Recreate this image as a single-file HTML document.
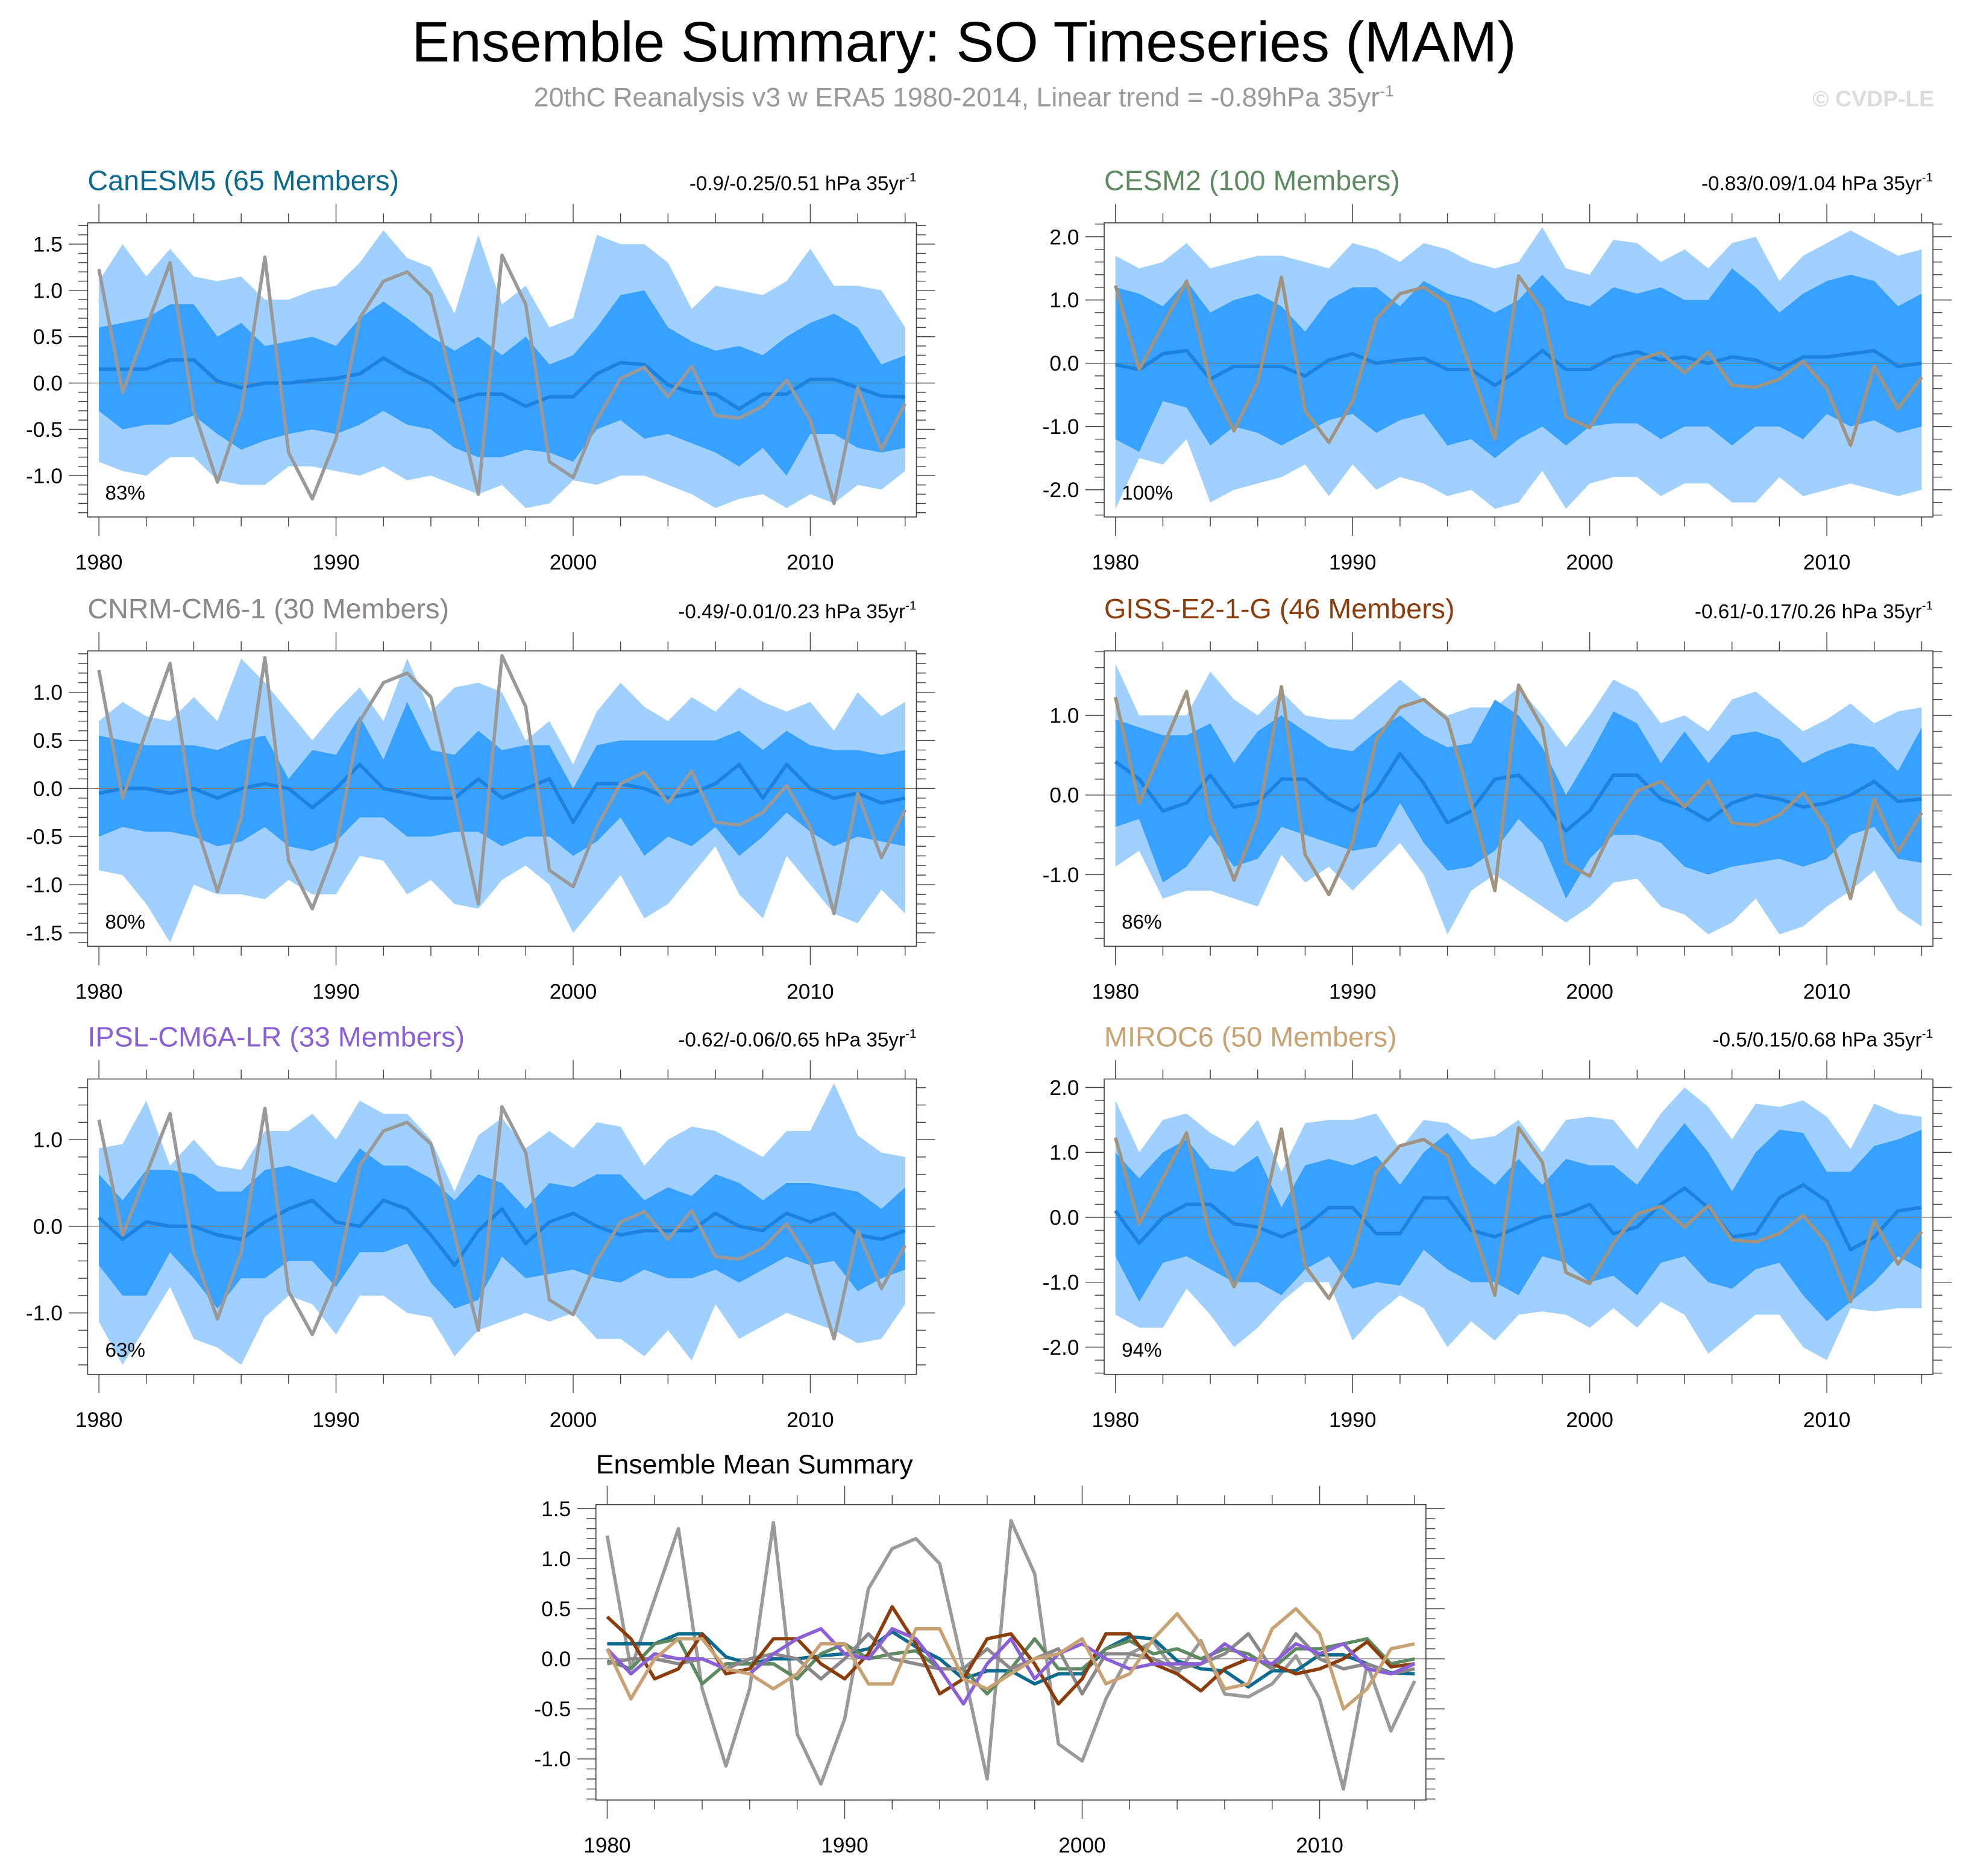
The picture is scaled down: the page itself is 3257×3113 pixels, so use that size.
<!DOCTYPE html>
<html><head><meta charset="utf-8">
<style>
html,body{margin:0;padding:0;background:#fff;}
svg{display:block;font-family:"Liberation Sans",sans-serif;}
</style></head>
<body>
<svg id="chart" width="3257" height="3113" viewBox="0 0 1568 1498.7" preserveAspectRatio="none" xmlns="http://www.w3.org/2000/svg">
<rect x="0" y="0" width="1568" height="1498.7" fill="#fff"/>
<text x="770" y="49" font-size="45.5" text-anchor="middle" fill="#000">Ensemble Summary: SO Timeseries (MAM)</text>
<text x="770" y="85" font-size="21.5" text-anchor="middle" fill="#9a9a9a">20thC Reanalysis v3 w ERA5 1980-2014, Linear trend = -0.89hPa 35yr<tspan dy="-8" font-size="13">-1</tspan></text>
<text x="1545" y="85" font-size="18" font-weight="bold" text-anchor="end" fill="#dcdcdc">© CVDP-LE</text>
<g id="panels"></g>
</svg>
<script>
const years = [1980,1981,1982,1983,1984,1985,1986,1987,1988,1989,1990,1991,1992,1993,1994,1995,1996,1997,1998,1999,2000,2001,2002,2003,2004,2005,2006,2007,2008,2009,2010,2011,2012,2013,2014];
const obs = [1.23,-0.1,0.6,1.3,-0.3,-1.07,-0.3,1.36,-0.75,-1.25,-0.6,0.7,1.1,1.2,0.95,-0.1,-1.2,1.38,0.85,-0.85,-1.02,-0.4,0.05,0.17,-0.15,0.18,-0.35,-0.38,-0.25,0.03,-0.4,-1.3,-0.05,-0.72,-0.22];
const modelNames = ["CanESM5 (65 Members)","CESM2 (100 Members)","CNRM-CM6-1 (30 Members)","GISS-E2-1-G (46 Members)","IPSL-CM6A-LR (33 Members)","MIROC6 (50 Members)"];
const trendLabels = ["-0.9/-0.25/0.51 hPa 35yr","-0.83/0.09/1.04 hPa 35yr","-0.49/-0.01/0.23 hPa 35yr","-0.61/-0.17/0.26 hPa 35yr","-0.62/-0.06/0.65 hPa 35yr","-0.5/0.15/0.68 hPa 35yr"];
const pctLabels = ["83%","100%","80%","86%","63%","94%"];
const mean_CanESM5 = [0.15,0.15,0.15,0.25,0.25,0.02,-0.05,0.0,0.0,0.03,0.05,0.1,0.27,0.12,0.0,-0.2,-0.12,-0.12,-0.25,-0.15,-0.15,0.1,0.22,0.2,-0.02,-0.1,-0.12,-0.28,-0.12,-0.12,0.04,0.04,-0.05,-0.14,-0.15];
const hi90_CanESM5 = [1.1,1.5,1.15,1.45,1.15,1.1,1.15,0.9,0.9,1.0,1.05,1.3,1.65,1.35,1.25,0.75,1.6,0.85,1.05,0.6,0.7,1.6,1.5,1.5,1.3,0.8,1.05,1.0,0.95,1.1,1.45,1.05,1.05,1.0,0.6];
const lo10_CanESM5 = [-0.85,-0.95,-1.0,-0.8,-0.8,-1.05,-1.1,-1.1,-0.9,-0.9,-0.95,-1.0,-0.9,-1.05,-1.0,-1.1,-1.2,-1.1,-1.35,-1.3,-1.05,-1.1,-1.0,-1.0,-1.1,-1.2,-1.35,-1.25,-1.2,-1.35,-1.2,-1.3,-1.1,-1.15,-0.95];
const hi75_CanESM5 = [0.6,0.65,0.7,0.85,0.85,0.5,0.65,0.4,0.45,0.5,0.4,0.7,0.88,0.7,0.5,0.35,0.5,0.3,0.5,0.2,0.3,0.6,0.95,1.0,0.6,0.45,0.35,0.4,0.3,0.5,0.65,0.75,0.6,0.2,0.3];
const lo25_CanESM5 = [-0.3,-0.5,-0.45,-0.45,-0.35,-0.55,-0.72,-0.62,-0.55,-0.5,-0.55,-0.45,-0.3,-0.45,-0.5,-0.7,-0.8,-0.8,-0.72,-0.75,-0.85,-0.5,-0.4,-0.6,-0.55,-0.65,-0.75,-0.9,-0.7,-1.0,-0.55,-0.55,-0.7,-0.75,-0.7];
const mean_CESM2 = [-0.02,-0.1,0.15,0.2,-0.25,-0.05,-0.05,-0.05,-0.2,0.05,0.15,0.0,0.05,0.08,-0.1,-0.1,-0.35,-0.1,0.2,-0.1,-0.1,0.1,0.18,0.05,0.1,0.0,0.1,0.05,-0.1,0.1,0.1,0.15,0.2,-0.05,0.0];
const hi90_CESM2 = [1.7,1.5,1.6,1.9,1.5,1.6,1.7,1.7,1.6,1.5,1.9,1.8,1.6,1.9,1.8,1.6,1.5,1.6,2.15,1.5,1.4,1.95,1.9,1.6,1.8,1.5,1.9,2.0,1.3,1.7,1.9,2.1,1.9,1.7,1.8];
const lo10_CESM2 = [-2.3,-1.5,-1.6,-1.2,-2.2,-2.0,-1.9,-1.8,-1.6,-2.1,-1.6,-2.0,-1.8,-1.9,-2.1,-2.0,-2.3,-2.2,-1.7,-2.3,-1.9,-1.8,-1.8,-2.1,-1.9,-1.9,-2.2,-2.2,-1.8,-2.1,-2.0,-1.9,-2.0,-2.1,-2.0];
const hi75_CESM2 = [1.2,1.1,0.9,1.3,0.8,1.0,1.1,0.9,0.5,1.0,1.2,1.2,0.9,1.3,1.1,1.0,0.8,1.0,1.4,1.0,0.9,1.2,1.1,1.2,1.0,1.0,1.5,1.2,0.8,1.1,1.3,1.4,1.3,0.9,1.1];
const lo25_CESM2 = [-1.2,-1.4,-0.6,-0.7,-1.3,-1.0,-1.1,-1.3,-1.1,-0.9,-0.8,-1.1,-0.9,-0.8,-1.3,-1.2,-1.5,-1.2,-1.0,-1.3,-1.0,-0.95,-0.95,-1.2,-1.0,-1.0,-1.3,-1.0,-1.0,-1.2,-0.8,-1.0,-0.9,-1.1,-1.0];
const mean_CNRM = [-0.05,0.0,0.0,-0.05,0.0,-0.1,0.0,0.05,0.0,-0.2,0.0,0.25,0.0,-0.05,-0.1,-0.1,0.1,-0.1,0.0,0.1,-0.35,0.05,0.05,0.0,-0.1,-0.05,0.05,0.25,-0.1,0.25,0.0,-0.1,-0.05,-0.15,-0.1];
const hi90_CNRM = [0.7,0.9,0.75,0.7,0.95,0.7,1.35,1.1,0.8,0.5,0.8,1.05,0.7,1.35,0.8,1.05,1.1,1.0,0.5,0.7,0.25,0.8,1.1,0.85,0.7,0.95,0.8,1.05,0.9,0.8,0.9,0.6,1.0,0.75,0.9];
const lo10_CNRM = [-0.85,-0.9,-1.2,-1.6,-1.0,-1.1,-1.1,-1.15,-0.95,-1.1,-1.1,-0.7,-0.75,-1.1,-0.95,-1.2,-1.25,-0.95,-0.8,-1.0,-1.5,-1.2,-0.9,-1.35,-1.2,-0.9,-0.6,-1.1,-1.35,-0.7,-1.0,-1.3,-1.4,-1.05,-1.3];
const hi75_CNRM = [0.55,0.5,0.45,0.45,0.45,0.4,0.5,0.55,0.1,0.4,0.35,0.75,0.3,0.9,0.4,0.35,0.6,0.4,0.45,0.45,0.0,0.45,0.5,0.5,0.5,0.5,0.5,0.6,0.4,0.6,0.45,0.4,0.4,0.35,0.4];
const lo25_CNRM = [-0.5,-0.4,-0.45,-0.45,-0.5,-0.6,-0.55,-0.4,-0.6,-0.65,-0.55,-0.3,-0.3,-0.5,-0.5,-0.45,-0.45,-0.6,-0.5,-0.5,-0.7,-0.55,-0.3,-0.7,-0.5,-0.6,-0.4,-0.7,-0.5,-0.25,-0.45,-0.6,-0.5,-0.55,-0.6];
const mean_GISS = [0.42,0.2,-0.2,-0.1,0.25,-0.15,-0.1,0.2,0.2,-0.05,-0.2,0.05,0.52,0.15,-0.35,-0.2,0.2,0.25,-0.05,-0.45,-0.2,0.25,0.25,-0.05,-0.15,-0.32,-0.1,0.0,-0.05,-0.15,-0.1,0.0,0.17,-0.08,-0.05];
const hi90_GISS = [1.65,1.0,1.0,1.0,1.55,1.2,1.0,1.3,1.0,0.95,0.95,1.2,1.45,1.2,1.0,1.1,1.1,1.35,1.0,0.6,1.0,1.45,1.3,0.9,1.0,0.8,1.2,1.3,1.05,0.8,0.95,1.15,0.9,1.05,1.1];
const lo10_GISS = [-0.9,-0.7,-1.3,-1.2,-1.2,-1.3,-1.4,-0.75,-1.1,-0.9,-1.2,-0.9,-0.6,-1.0,-1.75,-1.2,-1.0,-1.2,-1.4,-1.6,-1.4,-1.1,-1.05,-1.4,-1.5,-1.75,-1.6,-1.3,-1.75,-1.65,-1.4,-1.2,-0.95,-1.45,-1.65];
const hi75_GISS = [0.95,0.85,0.75,0.75,0.9,0.4,0.8,1.0,0.8,0.6,0.55,0.8,1.0,0.75,0.6,0.65,1.2,1.0,0.6,0.0,0.5,1.05,0.9,0.4,0.8,0.4,0.75,0.8,0.7,0.4,0.55,0.65,0.6,0.3,0.85];
const lo25_GISS = [-0.4,-0.3,-1.1,-0.9,-0.5,-0.9,-0.8,-0.4,-0.5,-0.6,-0.7,-0.65,-0.1,-0.6,-0.95,-0.9,-0.7,-0.3,-0.6,-1.3,-0.8,-0.5,-0.5,-0.6,-0.9,-1.0,-0.9,-0.85,-0.8,-0.9,-0.8,-0.5,-0.4,-0.8,-0.85];
const mean_IPSL = [0.1,-0.15,0.05,0.0,0.0,-0.1,-0.15,0.05,0.2,0.3,0.05,0.0,0.3,0.2,-0.1,-0.45,-0.05,0.2,-0.2,0.05,0.15,0.0,-0.1,-0.05,-0.05,-0.05,0.15,0.0,-0.05,0.15,0.05,0.15,-0.1,-0.15,-0.05];
const hi90_IPSL = [0.9,0.95,1.45,0.7,1.0,0.7,0.65,1.1,1.1,1.3,1.0,1.45,1.3,1.3,1.0,0.4,1.05,1.25,0.9,1.1,0.9,1.2,1.15,0.7,1.0,1.15,1.1,0.95,0.8,1.1,1.1,1.65,1.05,0.85,0.8];
const lo10_IPSL = [-1.1,-1.6,-1.15,-0.7,-1.3,-1.4,-1.6,-1.05,-0.8,-0.9,-1.25,-0.8,-0.8,-1.0,-1.05,-1.5,-1.2,-1.1,-1.0,-1.1,-1.0,-1.3,-1.3,-1.5,-1.2,-1.55,-0.9,-1.3,-1.15,-1.0,-1.1,-1.2,-1.35,-1.3,-0.9];
const hi75_IPSL = [0.6,0.3,0.65,0.65,0.6,0.4,0.4,0.65,0.7,0.6,0.5,0.9,0.7,0.7,0.55,0.3,0.6,0.5,0.2,0.5,0.45,0.6,0.6,0.3,0.45,0.35,0.6,0.5,0.3,0.5,0.5,0.45,0.4,0.2,0.45];
const lo25_IPSL = [-0.45,-0.8,-0.8,-0.3,-0.6,-0.95,-0.6,-0.6,-0.4,-0.4,-0.7,-0.3,-0.3,-0.2,-0.65,-0.95,-0.85,-0.35,-0.6,-0.55,-0.5,-0.6,-0.65,-0.5,-0.6,-0.6,-0.5,-0.65,-0.5,-0.35,-0.45,-0.4,-0.75,-0.6,-0.5];
const mean_MIROC6 = [0.1,-0.4,0.0,0.2,0.2,-0.1,-0.15,-0.3,-0.15,0.15,0.15,-0.25,-0.25,0.3,0.3,-0.2,-0.3,-0.15,0.0,0.05,0.2,-0.25,-0.15,0.2,0.45,0.15,-0.3,-0.25,0.3,0.5,0.25,-0.5,-0.3,0.1,0.15];
const hi90_MIROC6 = [1.8,1.0,1.5,1.6,1.3,1.1,1.5,0.7,1.45,1.5,1.5,1.6,1.05,1.5,1.45,1.2,1.25,1.5,1.0,1.5,1.55,1.5,1.05,1.6,2.0,1.7,1.2,1.75,1.7,1.8,1.55,1.05,1.75,1.6,1.55];
const lo10_MIROC6 = [-1.5,-1.7,-1.7,-1.1,-1.5,-2.0,-1.7,-1.3,-1.0,-1.0,-1.9,-1.5,-1.2,-1.4,-2.0,-1.6,-1.9,-1.5,-1.45,-1.5,-1.7,-1.4,-1.7,-1.3,-1.5,-2.1,-1.8,-1.5,-1.5,-2.0,-2.2,-1.4,-1.45,-1.4,-1.4];
const hi75_MIROC6 = [1.0,0.6,1.0,1.2,0.75,0.7,0.95,0.15,0.8,0.9,0.8,0.95,0.5,1.0,1.3,0.8,0.5,0.9,0.5,0.9,0.8,0.8,0.5,1.0,1.45,1.0,0.4,1.0,1.35,1.3,0.7,0.7,1.1,1.2,1.35];
const lo25_MIROC6 = [-0.6,-1.3,-0.7,-0.6,-0.8,-1.0,-1.0,-1.2,-0.8,-0.6,-1.1,-1.0,-1.05,-0.5,-0.8,-1.0,-1.0,-1.2,-0.6,-0.7,-1.0,-0.9,-1.2,-0.7,-0.6,-1.0,-1.1,-0.8,-0.7,-1.2,-1.6,-1.3,-1.0,-0.6,-0.8];
const xTickLabels = [1980,1990,2000,2010];

const NS="http://www.w3.org/2000/svg";
const root=document.getElementById('panels');
function mk(tag,attrs,parent){const e=document.createElementNS(NS,tag);for(const k in attrs)e.setAttribute(k,attrs[k]);(parent||root).appendChild(e);return e;}

const models=[
 {mean:mean_CanESM5,hi90:hi90_CanESM5,lo10:lo10_CanESM5,hi75:hi75_CanESM5,lo25:lo25_CanESM5,color:"#0b6a8e",key:"canesm5"},
 {mean:mean_CESM2,hi90:hi90_CESM2,lo10:lo10_CESM2,hi75:hi75_CESM2,lo25:lo25_CESM2,color:"#5e8a62",key:"cesm2"},
 {mean:mean_CNRM,hi90:hi90_CNRM,lo10:lo10_CNRM,hi75:hi75_CNRM,lo25:lo25_CNRM,color:"#8c878a",key:"cnrm"},
 {mean:mean_GISS,hi90:hi90_GISS,lo10:lo10_GISS,hi75:hi75_GISS,lo25:lo25_GISS,color:"#8b3d0c",key:"giss"},
 {mean:mean_IPSL,hi90:hi90_IPSL,lo10:lo10_IPSL,hi75:hi75_IPSL,lo25:lo25_IPSL,color:"#8a5fd8",key:"ipsl"},
 {mean:mean_MIROC6,hi90:hi90_MIROC6,lo10:lo10_MIROC6,hi75:hi75_MIROC6,lo25:lo25_MIROC6,color:"#c9a273",key:"miroc6"}
];
const obsColors=["#999999","#a0937f","#999999","#a0937f","#999999","#a0937f"];
const layouts=[
 {x:70,y:178,w:662,h:235,top:1.73,bot:-1.446,major:0.5,minor:0.1,lo:-1.0,hi:1.5},
 {x:882,y:178,w:662,h:235,top:2.22,bot:-2.43,major:1.0,minor:0.2,lo:-2.0,hi:2.0},
 {x:70,y:520,w:662,h:236,top:1.43,bot:-1.64,major:0.5,minor:0.1,lo:-1.5,hi:1.0},
 {x:882,y:520,w:662,h:236,top:1.81,bot:-1.9,major:1.0,minor:0.2,lo:-1.0,hi:1.0},
 {x:70,y:862,w:662,h:236,top:1.70,bot:-1.71,major:1.0,minor:0.2,lo:-1.0,hi:1.0},
 {x:882,y:862,w:662,h:236,top:2.13,bot:-2.42,major:1.0,minor:0.2,lo:-2.0,hi:2.0}
];
const bottomLayout={x:476,y:1202,w:663,h:236,top:1.54,bot:-1.41,major:0.5,minor:0.1,lo:-1.0,hi:1.5};

function axes(L,g){
  const sx=yr=>L.x+9+(yr-1980)*(L.w-18)/34;
  const sy=v=>L.y+(L.top-v)/(L.top-L.bot)*L.h;
  const nMin=Math.ceil(L.bot/L.minor-1e-6), nMax=Math.floor(L.top/L.minor+1e-6);
  for(let i=nMin;i<=nMax;i++){
    const v=i*L.minor; const y=sy(v);
    const isMaj=Math.abs(v/L.major-Math.round(v/L.major))<1e-6 && v>=L.lo-1e-6 && v<=L.hi+1e-6;
    const len=isMaj?15:7.5;
    mk('line',{x1:L.x-len,y1:y,x2:L.x,y2:y,stroke:'#444','stroke-width':0.7},g);
    mk('line',{x1:L.x+L.w,y1:y,x2:L.x+L.w+len,y2:y,stroke:'#444','stroke-width':0.7},g);
    if(isMaj){
      const t=mk('text',{x:L.x-20,y:y+6,'font-size':17,'text-anchor':'end',fill:'#000'},g);
      
      
      t.textContent=(Math.abs(v)<1e-9?0:v).toFixed(1);
    }
  }
  for(let yr=1980;yr<=2014;yr+=2){
    const x=sx(yr); const isMaj=(yr%10===0); const len=isMaj?15:7.5;
    mk('line',{x1:x,y1:L.y-len,x2:x,y2:L.y,stroke:'#444','stroke-width':0.7},g);
    mk('line',{x1:x,y1:L.y+L.h,x2:x,y2:L.y+L.h+len,stroke:'#444','stroke-width':0.7},g);
  }
  xTickLabels.forEach(yr=>{
    const t=mk('text',{x:sx(yr),y:L.y+L.h+42,'font-size':17,'text-anchor':'middle',fill:'#000'},g);
    
    
    t.textContent=yr;
  });
  return {sx,sy};
}
function band(hi,lo,sx,sy){
  let d='M'+years.map((yr,i)=>sx(yr).toFixed(2)+','+sy(hi[i]).toFixed(2)).join('L');
  for(let i=years.length-1;i>=0;i--) d+='L'+sx(years[i]).toFixed(2)+','+sy(lo[i]).toFixed(2);
  return d+'Z';
}
function linePath(arr,sx,sy){return 'M'+years.map((yr,i)=>sx(yr).toFixed(2)+','+sy(arr[i]).toFixed(2)).join('L');}

models.forEach((m,k)=>{
  const L=layouts[k];
  const g=mk('g',{});
  
  
  const {sx,sy}=axes(L,g);
  const b1=mk('path',{d:band(m.hi90,m.lo10,sx,sy),fill:'#9fd0ff',stroke:'none'},g);
  
  
  const b2=mk('path',{d:band(m.hi75,m.lo25,sx,sy),fill:'#38a0ff',stroke:'none'},g);
  
  
  mk('line',{x1:L.x,y1:sy(0),x2:L.x+L.w,y2:sy(0),stroke:'#777','stroke-width':0.6},g);
  const ml=mk('path',{d:linePath(m.mean,sx,sy),fill:'none',stroke:'#1b82e0','stroke-width':2.8,'stroke-linejoin':'round'},g);
  
  
  const ol=mk('path',{d:linePath(obs,sx,sy),fill:'none',stroke:obsColors[k],'stroke-width':2.7,'stroke-linejoin':'round'},g);
  
  
  mk('rect',{x:L.x,y:L.y,width:L.w,height:L.h,fill:'none',stroke:'#444','stroke-width':0.8},g);
  const tt=mk('text',{x:L.x,y:L.y-26,'font-size':22.5,fill:m.color},g);
  
  
  tt.textContent=modelNames[k];
  const tr=mk('text',{x:L.x+L.w,y:L.y-26,'font-size':16,'text-anchor':'end',fill:'#000'},g);
  
  
  tr.textContent=trendLabels[k];
  const sup=mk('tspan',{dy:-7,'font-size':10},tr); sup.textContent='-1';
  const pc=mk('text',{x:L.x+14,y:L.y+L.h-14,'font-size':16,fill:'#000'},g);
  
  
  pc.textContent=pctLabels[k];
});

(function(){
  const L=bottomLayout;
  const g=mk('g',{});
  
  
  const {sx,sy}=axes(L,g);
  mk('line',{x1:L.x,y1:sy(0),x2:L.x+L.w,y2:sy(0),stroke:'#777','stroke-width':0.6},g);
  const ol=mk('path',{d:linePath(obs,sx,sy),fill:'none',stroke:'#9a9a9a','stroke-width':2.7,'stroke-linejoin':'round'},g);
  
  
  models.forEach(m=>{
    const p=mk('path',{d:linePath(m.mean,sx,sy),fill:'none',stroke:m.color,'stroke-width':2.7,'stroke-linejoin':'round'},g);
    
    
  });
  mk('rect',{x:L.x,y:L.y,width:L.w,height:L.h,fill:'none',stroke:'#444','stroke-width':0.8},g);
  const t=mk('text',{x:L.x,y:L.y-25,'font-size':21.5,fill:'#000'},g);
  
  
  t.textContent='Ensemble Mean Summary';
})();
</script>
</body></html>
